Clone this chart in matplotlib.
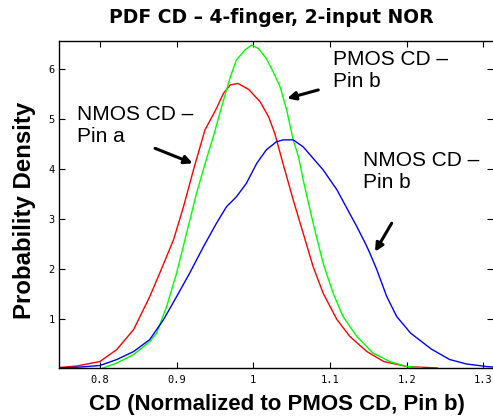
import numpy as np
import matplotlib
matplotlib.use("Agg")
import matplotlib.pyplot as plt

# DATOS
# =========================

# NMOS CD - Pin a (rojo)
cd_nmos_a = [0.747, 0.770, 0.800, 0.822, 0.844, 0.865, 0.878, 0.896, 0.909, 0.922,
             0.937, 0.952, 0.961, 0.970, 0.980, 0.994, 1.009, 1.020, 1.028, 1.039,
             1.052, 1.065, 1.078, 1.091, 1.109, 1.126, 1.148, 1.170, 1.200, 1.240]
pdf_nmos_a = [0.03, 0.06, 0.15, 0.39, 0.79, 1.45, 1.92, 2.59, 3.25, 3.99,
              4.79, 5.22, 5.52, 5.69, 5.72, 5.60, 5.35, 5.05, 4.72, 4.10,
              3.39, 2.72, 2.05, 1.52, 0.99, 0.65, 0.35, 0.15, 0.05, 0.02]

# PMOS CD - Pin b (verde)
cd_pmos_b = [0.804, 0.822, 0.844, 0.865, 0.874, 0.887, 0.900, 0.913, 0.926, 0.939,
             0.948, 0.957, 0.970, 0.978, 0.989, 0.998, 1.0065, 1.017, 1.026, 1.035,
             1.0435, 1.052, 1.059, 1.065, 1.078, 1.091, 1.104, 1.117, 1.135, 1.156,
             1.178, 1.200, 1.220]
pdf_pmos_b = [0.02, 0.12, 0.29, 0.55, 0.72, 1.25, 1.92, 2.72, 3.52, 4.21,
              4.66, 5.16, 5.85, 6.19, 6.39, 6.49, 6.42, 6.22, 5.95, 5.65,
              5.19, 4.59, 4.25, 3.79, 2.92, 2.12, 1.52, 1.05, 0.65, 0.32,
              0.15, 0.05, 0.02]

# NMOS CD - Pin b (azul)
cd_nmos_b = [0.747, 0.775, 0.800, 0.822, 0.844, 0.865, 0.883, 0.900, 0.917, 0.935,
             0.952, 0.965, 0.978, 0.991, 1.0045, 1.017, 1.030, 1.039, 1.052, 1.065,
             1.078, 1.091, 1.109, 1.122, 1.135, 1.146, 1.152, 1.161, 1.174, 1.187,
             1.205, 1.232, 1.256, 1.278, 1.304, 1.312]
pdf_nmos_b = [0.02, 0.04, 0.07, 0.19, 0.35, 0.59, 0.99, 1.45, 1.92, 2.45,
              2.92, 3.25, 3.45, 3.72, 4.12, 4.39, 4.55, 4.59, 4.59, 4.45,
              4.22, 3.99, 3.59, 3.22, 2.85, 2.52, 2.32, 1.99, 1.45, 1.05,
              0.72, 0.40, 0.19, 0.10, 0.05, 0.04]

x_ticks = [0.8, 0.9, 1.0, 1.1, 1.2, 1.3]
x_tick_labels = ["0.8", "0.9", "1", "1.1", "1.2", "1.3"]
y_ticks = [1, 2, 3, 4, 5, 6]

plt.rcParams['font.family'] = ['Liberation Sans', 'DejaVu Sans']

fig = plt.figure(figsize=(4.93, 4.19), dpi=100)
ax = fig.add_axes([0.1197, 0.1217, 1.0 - 0.1197, 0.9021 - 0.1217])

ax.plot(cd_nmos_a, pdf_nmos_a, color="#ff0000", lw=1.0)
ax.plot(cd_pmos_b, pdf_pmos_b, color="#00ff00", lw=1.0)
ax.plot(cd_nmos_b, pdf_nmos_b, color="#0000ff", lw=1.0)

ax.set_xlim(0.7467, 1.3125)
ax.set_ylim(0.02, 6.57)

ax.set_xticks(x_ticks)
ax.set_xticklabels(x_tick_labels, family="DejaVu Sans Mono", fontsize=7.5)
ax.set_yticks(y_ticks)
ax.set_yticklabels([str(v) for v in y_ticks], family="DejaVu Sans Mono", fontsize=7.5)
ax.tick_params(direction="in", length=4.5, width=0.8, top=True, right=True)
ax.tick_params(axis="x", pad=5)
ax.tick_params(axis="y", pad=3)
ax.spines["right"].set_visible(False)
for s in ["left", "bottom", "top"]:
    ax.spines[s].set_linewidth(1.0)

# etiquetas con flechas
flecha = dict(arrowstyle="-|>", color="black", lw=2.2, mutation_scale=12, shrinkA=0, shrinkB=0)
ax.annotate("", xy=(0.921, 4.12), xytext=(0.872, 4.42), arrowprops=flecha)
ax.annotate("", xy=(1.0443, 5.42), xytext=(1.0847, 5.59), arrowprops=flecha)
ax.annotate("", xy=(1.1587, 2.35), xytext=(1.1804, 2.92), arrowprops=flecha)

ax.text(0.770, 4.55, "NMOS CD \u2013\nPin a", fontsize=15, ha="left", va="baseline")
ax.text(1.1043, 5.65, "PMOS CD \u2013\nPin b", fontsize=15, ha="left", va="baseline")
ax.text(1.1434, 3.62, "NMOS CD \u2013\nPin b", fontsize=15, ha="left", va="baseline")

fig.text(271.5 / 493, 1 - 22.7 / 419, "PDF CD \u2013 4-finger, 2-input NOR",
         fontsize=13.5, fontweight="bold", family="DejaVu Sans", ha="center", va="baseline")
fig.text(276.5 / 493, 1 - 410 / 419, "CD (Normalized to PMOS CD, Pin b)",
         fontsize=16, fontweight="bold", ha="center", va="baseline")
fig.text(13 / 493, 1 - 210.5 / 419, "Probability Density", fontsize=17.3,
         fontweight="bold", rotation=90, ha="left", va="center")

fig.savefig("out.png", dpi=100)
